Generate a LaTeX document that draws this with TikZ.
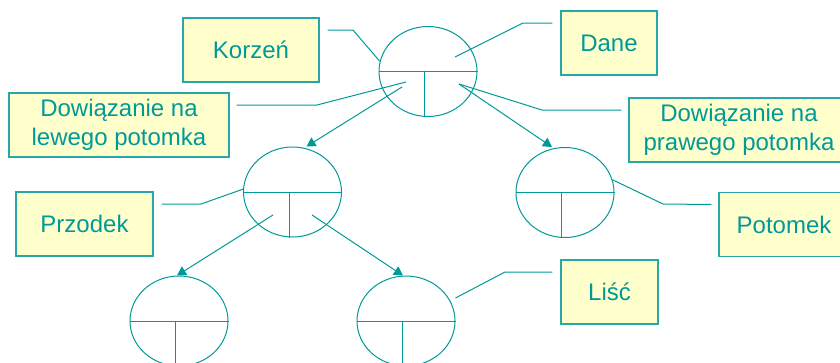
\documentclass[tikz,border=0pt]{standalone}
\usepackage{fontspec}
\setmainfont{Liberation Sans}
\usetikzlibrary{shapes.geometric,calc,arrows.meta}
\definecolor{seagreen}{RGB}{0,153,153}
\definecolor{notefill}{RGB}{255,255,204}
\begin{document}
\begin{tikzpicture}[x=1pt,y=-1pt,
  treenode/.style={ellipse, draw=seagreen, line width=1pt,
    minimum width=98pt, minimum height=90pt, inner sep=0pt},
  note/.style={rectangle, draw=seagreen!85, fill=notefill, line width=1.2pt,
    text=seagreen, font=\fontsize{24}{29}\selectfont, align=center,
    inner sep=0pt, minimum height=64pt},
  link/.style={draw=seagreen, line width=1pt},
  pointer/.style={link, -{Triangle[length=9pt,width=10pt]}}]
\useasboundingbox (0,0) rectangle (840,362);

% tree nodes
\node[treenode] (root) at (428,71.5) {};
\node[treenode] (lc) at (292.5,192) {};
\node[treenode] (rc) at (565,192.5) {};
\node[treenode] (ll) at (179,321) {};
\node[treenode] (lr) at (406,321) {};

% data field above, two link fields below
\foreach \n in {root,lc,rc,ll,lr} {
  \draw[link] (\n.west) -- (\n.east);
  \draw[link] ($(\n.center)+(-3.5,0)$) -- ($(\n.south)+(-3.5,0)$);
}

% labels
\node[note, minimum width=136pt] (korzen) at (251,50) {Korzeń};
\node[note, minimum width=96pt] (dane) at (609,43) {Dane};
\node[note, minimum width=220pt] (ldow) at (119,125) {Dowiązanie na\\lewego potomka};
\node[note, minimum width=220pt] (rdow) at (739,130) {Dowiązanie na\\prawego potomka};
\node[note, minimum width=137pt] (przodek) at (84.5,224) {Przodek};
\node[note, minimum width=130pt] (potomek) at (784,224.5) {Potomek};
\node[note, minimum width=97pt] (lisc) at (609.5,292) {Liść};

% bend points of the label leaders
\coordinate (kbend) at (353,30);
\coordinate (dbend) at (523,23);
\coordinate (lbend) at (317,105);
\coordinate (rbend) at (542,110);
\coordinate (pbend) at (201,204);
\coordinate (tbend) at (663,204);
\coordinate (sbend) at (505,272);

% label leaders
\draw[link] ($(korzen.east)+(8,-20)$) -- (kbend) -- ($(root.west)+(1,-10.5)$);
\draw[link] ($(root.center)+(27,-14.5)$) -- (dbend) -- ($(dane.west)+(-8,-20)$);
\draw[link] ($(ldow.east)+(7,-20)$) -- (lbend) -- ($(root.center)+(-22,10.5)$);
\draw[link] ($(root.center)+(31,12.5)$) -- (rbend) -- ($(rdow.west)+(-7,-20)$);
\draw[link] ($(przodek.east)+(8,-20)$) -- (pbend) -- ($(lc.west)+(0.5,-3)$);
\draw[link] (rc.15) -- (tbend) -- ($(potomek.west)+(-7,-20)$);
\draw[link] ($(lr.east)+(0,-23)$) -- (sbend) -- ($(lisc.west)+(-8,-20)$);

% child pointers
\draw[pointer] ($(root.center)+(-26,15.5)$) -- ($(lc.north)+(14,0)$);
\draw[pointer] ($(root.center)+(31,12.5)$) -- ($(rc.north)+(-13,0)$);
\draw[pointer] ($(lc.center)+(-19.5,23)$) -- ($(ll.north)+(-2,0)$);
\draw[pointer] ($(lc.center)+(19.5,23)$) -- ($(lr.north)+(-3,0)$);
\end{tikzpicture}
\end{document}
